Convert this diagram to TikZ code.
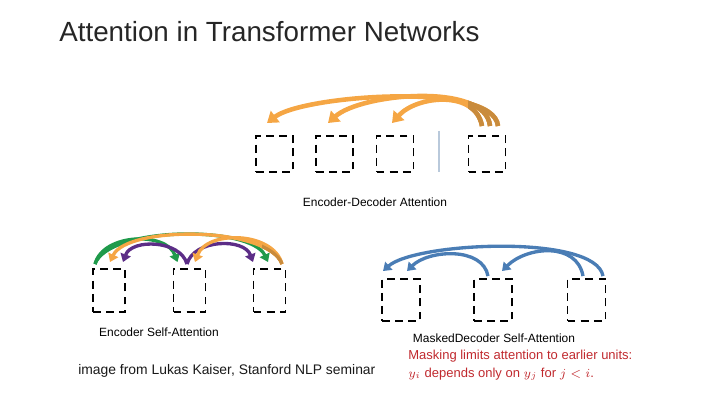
\documentclass[tikz,border=0pt]{standalone}
\usepackage{fontspec}
\setmainfont{Liberation Sans}
\usetikzlibrary{arrows.meta,calc}
\definecolor{attnorange}{HTML}{F5A644}
\definecolor{attnbrown}{HTML}{C98B3C}
\definecolor{attngreen}{HTML}{1F9A4B}
\definecolor{attnpurple}{HTML}{5C2D87}
\definecolor{attnblue}{HTML}{4A7DB5}
\definecolor{masknote}{HTML}{C0292E}
\definecolor{sepline}{HTML}{B9C9DB}

\begin{document}
\begin{tikzpicture}[x=0.02cm,y=0.02cm,
  unit/.style={draw,dash pattern=on 4.5pt off 3pt,line width=1.1pt,inner sep=0pt},
  topunit/.style={unit,minimum width=0.74cm,minimum height=0.72cm},
  encunit/.style={unit,minimum width=0.64cm,minimum height=0.86cm},
  decunit/.style={unit,minimum width=0.76cm,minimum height=0.84cm},
  bigattn/.style={line width=2.6pt,-{Triangle[width=8pt,length=6pt]}},
  smallattn/.style={line width=1.9pt,-{Triangle[width=6pt,length=4.5pt]}},
  caption/.style={font=\fontsize{6.8}{8}\selectfont},
  plain/.style={anchor=base west,inner sep=0pt}]
  \useasboundingbox (0,0) rectangle (720,-405);
  \node[plain,font=\fontsize{15.8}{18}\selectfont,text=black!85] (title) at (59,-42) {Attention in Transformer Networks};

  % encoder-decoder attention
  \node[topunit] (x1) at (274.5,-154) {};
  \node[topunit] (x2) at (334.5,-154) {};
  \node[topunit] (x3) at (395,-154) {};
  \node[topunit] (y1) at (487,-154) {};
  \draw[sepline,line width=1pt] (439,-131) -- (439,-172);
  \node[caption] (encdec) at (375,-202) {Encoder-Decoder Attention};
  \draw[bigattn,attnorange] ($(y1.north)+(11,9)$) to[out=95,in=38,looseness=0.5] ($(x1.north)+(-7.5,12)$);
  \draw[bigattn,attnorange] ($(y1.north)+(3,9)$) to[out=95,in=42,looseness=0.7] ($(x2.north)+(-6.5,12)$);
  \draw[bigattn,attnorange] ($(y1.north)+(-5,9)$) to[out=100,in=48,looseness=1.05] ($(x3.north)+(-3,12)$);
  \begin{scope}
    \clip (468,-80) rectangle (512,-135);
    \draw[line width=2.6pt,attnbrown] ($(y1.north)+(11,9)$) to[out=95,in=38,looseness=0.5] ($(x1.north)+(-7.5,12)$);
    \draw[line width=2.6pt,attnbrown] ($(y1.north)+(3,9)$) to[out=95,in=42,looseness=0.7] ($(x2.north)+(-6.5,12)$);
    \draw[line width=2.6pt,attnbrown] ($(y1.north)+(-5,9)$) to[out=100,in=48,looseness=1.05] ($(x3.north)+(-3,12)$);
  \end{scope}

  % encoder self-attention
  \node[encunit] (a1) at (109,-290.5) {};
  \node[encunit] (a2) at (189.5,-290.5) {};
  \node[encunit] (a3) at (269.5,-290.5) {};
  \node[caption] (encself) at (159,-332) {Encoder Self-Attention};
  \draw[smallattn,attngreen] ($(a1.north)+(-14,4)$) to[out=75,in=110,looseness=1] ($(a2.north)+(-12,6)$);
  \draw[smallattn,attngreen] ($(a1.north)+(-14,4)$) to[out=70,in=115,looseness=0.6] ($(a3.north)+(-1.5,6)$);
  \draw[smallattn,attnpurple] ($(a2.north)+(-2.5,4)$) to[out=105,in=70,looseness=1] ($(a1.north)+(14,6)$);
  \draw[smallattn,attnpurple] ($(a2.north)+(-2.5,4)$) to[out=75,in=110,looseness=1] ($(a3.north)+(-16.5,6)$);
  \draw[smallattn,attnorange] ($(a3.north)+(12.5,4)$) to[out=110,in=65,looseness=0.6] ($(a1.north)+(1,6)$);
  \draw[smallattn,attnorange] ($(a3.north)+(12.5,4)$) to[out=105,in=70,looseness=1] ($(a2.north)+(5.5,6)$);
  \begin{scope}
    \clip (262,-230) rectangle (292,-268);
    \draw[line width=1.9pt,attnbrown] ($(a3.north)+(12.5,4)$) to[out=110,in=65,looseness=0.6] ($(a1.north)+(1,6)$);
  \end{scope}

  % masked decoder self-attention
  \node[decunit] (b1) at (401,-300) {};
  \node[decunit] (b2) at (493,-300) {};
  \node[decunit] (b3) at (586.5,-300) {};
  \node[caption] (decself) at (494,-338) {MaskedDecoder Self-Attention};
  \draw[smallattn,attnblue] ($(b3.north)+(16.5,2)$) to[out=100,in=42,looseness=0.5] ($(b1.north)+(-18,7)$);
  \draw[smallattn,attnblue] ($(b3.north)+(-3.5,2)$) to[out=100,in=45,looseness=1.1] ($(b2.north)+(9,7)$);
  \draw[smallattn,attnblue] ($(b2.north)+(-5,2)$) to[out=100,in=45,looseness=0.95] ($(b1.north)+(6,7)$);

  \node[plain,text=masknote,font=\fontsize{7.4}{9}\selectfont] (mask1) at (408,-359) {Masking limits attention to earlier units:};
  \node[plain,text=masknote,font=\fontsize{7.4}{9}\selectfont] (mask2) at (408,-377) {$y_i$ depends only on $y_j$ for $j<i$.};
  \node[plain,font=\fontsize{7.9}{9}\selectfont,text=black!90] (credit) at (78,-374) {image from Lukas Kaiser, Stanford NLP seminar};
\end{tikzpicture}
\end{document}
